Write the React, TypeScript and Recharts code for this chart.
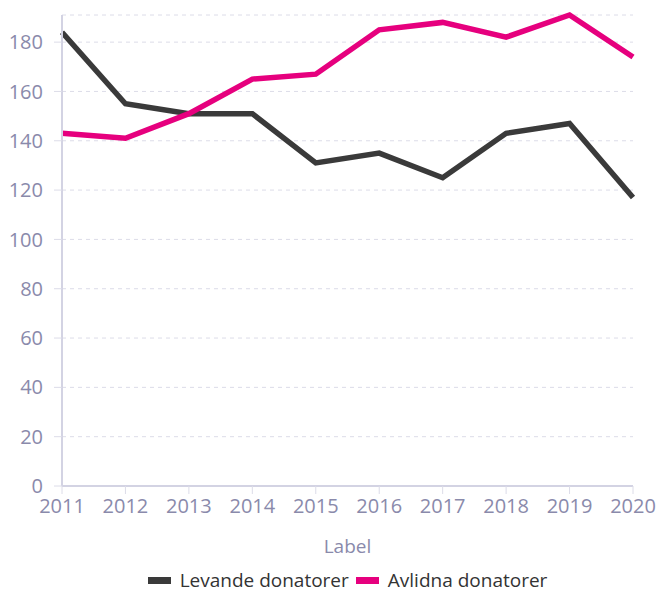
import React from 'react';
import { LineChart, Line, XAxis, YAxis, Legend, CartesianGrid } from 'recharts';

const years = ['2011', '2012', '2013', '2014', '2015', '2016', '2017', '2018', '2019', '2020'];
const levande = [184, 155, 151, 151, 131, 135, 125, 143, 147, 117];
const avlidna = [143, 141, 151, 165, 167, 185, 188, 182, 191, 174];
const yTicks = [0, 20, 40, 60, 80, 100, 120, 140, 160, 180];

const seriesNames = ['Levande donatorer', 'Avlidna donatorer'];
const seriesColors = ['#3a3a3a', '#e6007e'];

const data = years.map((year, i) => ({ year, levande: levande[i], avlidna: avlidna[i] }));

const font = '"Open Sans", sans-serif';
const tickStyle = { fontSize: 20, fill: '#8a8aab', fontFamily: font };

const LegendContent = () => (
  <div style={{ height: 30, display: 'flex', justifyContent: 'center', alignItems: 'center', fontFamily: font, fontSize: 19, color: '#333' }}>
    {seriesNames.map((name, i) => (
      <span key={name} style={{ display: 'flex', alignItems: 'center', marginRight: i === 0 ? 7 : 0 }}>
        <span style={{ display: 'inline-block', width: 23, height: 7, background: seriesColors[i], marginRight: 9 }} />
        {name}
      </span>
    ))}
  </div>
);

const App = () => {
  return (
    <div style={{ position: 'absolute', left: 0, top: 0, background: '#fff' }}>
      <LineChart width={659} height={595} data={data} margin={{ top: 15, right: 26, left: 0, bottom: 0 }}>
        <CartesianGrid vertical={false} strokeDasharray="4 4" stroke="#dcdce8" />
        <XAxis
          dataKey="year"
          tick={tickStyle}
          tickLine={{ stroke: '#dcdce8', strokeWidth: 1 }}
          tickMargin={5}
          tickSize={8}
          stroke="#d3d3e3"
          strokeWidth={2}
          height={79}
          label={{ value: 'Label', position: 'insideBottom', offset: 12, fill: '#8a8aab', fontSize: 19, fontFamily: font }}
        />
        <YAxis
          domain={[0, 191]}
          ticks={yTicks}
          tick={tickStyle}
          tickLine={{ stroke: '#dcdce8', strokeWidth: 1 }}
          tickSize={8}
          tickMargin={11}
          stroke="#d3d3e3"
          strokeWidth={2}
          width={62}
        />
        <Legend verticalAlign="bottom" wrapperStyle={{ bottom: 0, left: 62, width: 571 }} content={<LegendContent />} />
        <Line type="linear" dataKey="levande" name={seriesNames[0]} stroke={seriesColors[0]} strokeWidth={5.5} dot={false} isAnimationActive={false} />
        <Line type="linear" dataKey="avlidna" name={seriesNames[1]} stroke={seriesColors[1]} strokeWidth={5.5} dot={false} isAnimationActive={false} />
      </LineChart>
    </div>
  );
};

export default App;
